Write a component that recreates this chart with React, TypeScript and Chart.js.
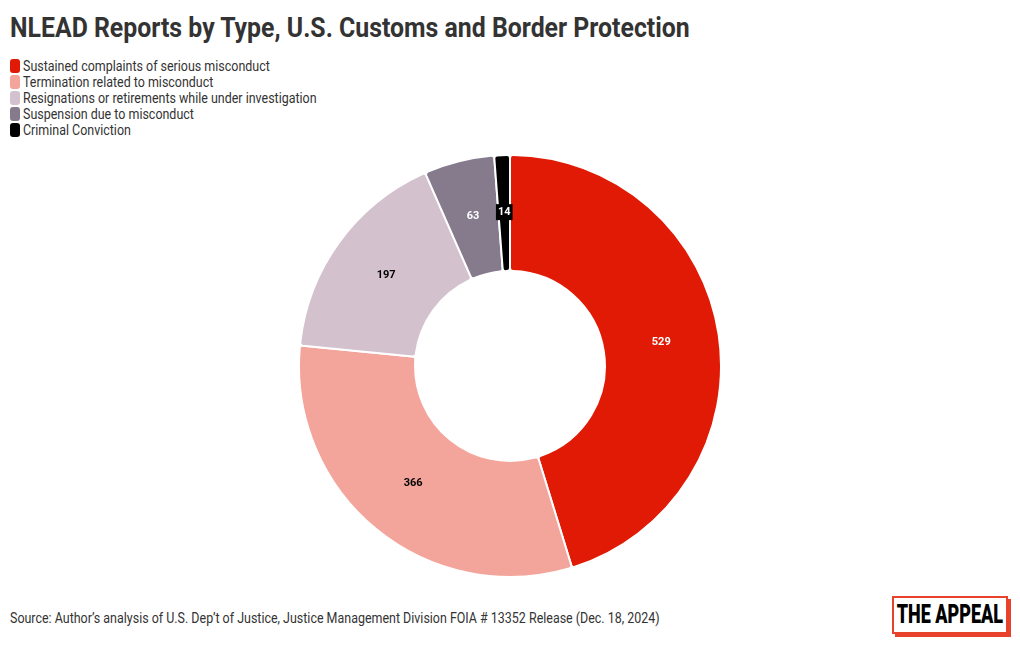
import React, { useEffect, useRef } from "react";
import { Chart, registerables } from "chart.js";

Chart.register(...registerables);

const categories = [
  "Sustained complaints of serious misconduct",
  "Termination related to misconduct",
  "Resignations or retirements while under investigation",
  "Suspension due to misconduct",
  "Criminal Conviction",
];
const values = [529, 366, 197, 63, 14];
const colors = ["#e01a04", "#f4a59b", "#d3c2cd", "#857b8c", "#000000"];
const labelColors = ["#ffffff", "#000000", "#000000", "#ffffff", "#ffffff"];
const labelBoxes = [false, false, false, false, true];

const FONT = "Roboto, 'Liberation Sans', sans-serif";

const labelPlugin = {
  id: "arcLabels",
  afterDatasetsDraw(chart: any) {
    const ctx = chart.ctx;
    const meta = chart.getDatasetMeta(0);
    ctx.save();
    ctx.font = `bold 11px ${FONT}`;
    ctx.textAlign = "center";
    ctx.textBaseline = "middle";
    meta.data.forEach((arc: any, i: number) => {
      const p = arc.tooltipPosition();
      const txt = String(values[i]);
      if (labelBoxes[i]) {
        const w = ctx.measureText(txt).width + 4;
        ctx.fillStyle = "#000";
        ctx.fillRect(p.x - w / 2, p.y - 9, w, 16);
      }
      ctx.fillStyle = labelColors[i];
      ctx.fillText(txt, p.x, p.y - 1);
    });
    ctx.restore();
  },
};

function Donut() {
  const ref = useRef<HTMLCanvasElement>(null);
  useEffect(() => {
    if (!ref.current) return;
    const chart = new Chart(ref.current, {
      type: "doughnut",
      data: {
        labels: categories,
        datasets: [
          {
            data: values,
            backgroundColor: colors,
            borderColor: "#ffffff",
            borderWidth: 2,
            borderRadius: 3,
          },
        ],
      },
      options: {
        responsive: false,
        animation: false,
        cutout: "45%",
        layout: { padding: 0 },
        plugins: { legend: { display: false }, tooltip: { enabled: false } },
      },
      plugins: [labelPlugin],
    });
    return () => chart.destroy();
  }, []);
  return (
    <canvas
      ref={ref}
      width={424}
      height={424}
      style={{ position: "absolute", left: 298, top: 154, width: 424, height: 424 }}
    />
  );
}

export default function App() {
  return (
    <div
      style={{
        position: "absolute",
        left: 0,
        top: 0,
        width: 1020,
        height: 650,
        background: "#ffffff",
        fontFamily: FONT,
        color: "#333333",
        overflow: "hidden",
      }}
    >
      <div
        style={{
          position: "absolute",
          left: 10,
          top: 11,
          fontSize: 27,
          fontWeight: 700,
          whiteSpace: "nowrap",
          transform: "scaleX(0.92)",
          transformOrigin: "left top",
          color: "#333333",
          lineHeight: "34px",
        }}
      >
        NLEAD Reports by Type, U.S. Customs and Border Protection
      </div>
      <div style={{ position: "absolute", left: 10, top: 58 }}>
        {categories.map((c, i) => (
          <div
            key={c}
            style={{ position: "relative", height: 16, display: "flex", alignItems: "center" }}
          >
            <div
              style={{
                width: 10,
                height: 14,
                borderRadius: 3,
                background: colors[i],
                marginRight: 3,
                flexShrink: 0,
              }}
            />
            <div
              style={{
                fontSize: 14,
                whiteSpace: "nowrap",
                transform: "scaleX(0.89)",
                transformOrigin: "left center",
                color: "#333333",
                lineHeight: "16px",
              }}
            >
              {c}
            </div>
          </div>
        ))}
      </div>
      <Donut />
      <div
        style={{
          position: "absolute",
          left: 10,
          top: 609,
          fontSize: 14,
          whiteSpace: "nowrap",
          transform: "scaleX(0.89)",
          transformOrigin: "left top",
          color: "#333333",
          lineHeight: "18px",
        }}
      >
        Source: Author’s analysis of U.S. Dep’t of Justice, Justice Management Division FOIA # 13352 Release (Dec. 18, 2024)
      </div>
      <div
        style={{
          position: "absolute",
          left: 892,
          top: 596,
          width: 112,
          height: 34,
          border: "2px solid #e8412c",
          boxShadow: "3px 3px 0 #e8412c",
          background: "#ffffff",
          display: "flex",
          alignItems: "center",
          justifyContent: "center",
        }}
      >
        <div
          style={{
            fontSize: 25,
            fontWeight: 900,
            color: "#000",
            whiteSpace: "nowrap",
            transform: "scaleX(0.72)",
            letterSpacing: 0,
            lineHeight: "30px",
          }}
        >
          THE APPEAL
        </div>
      </div>
    </div>
  );
}
